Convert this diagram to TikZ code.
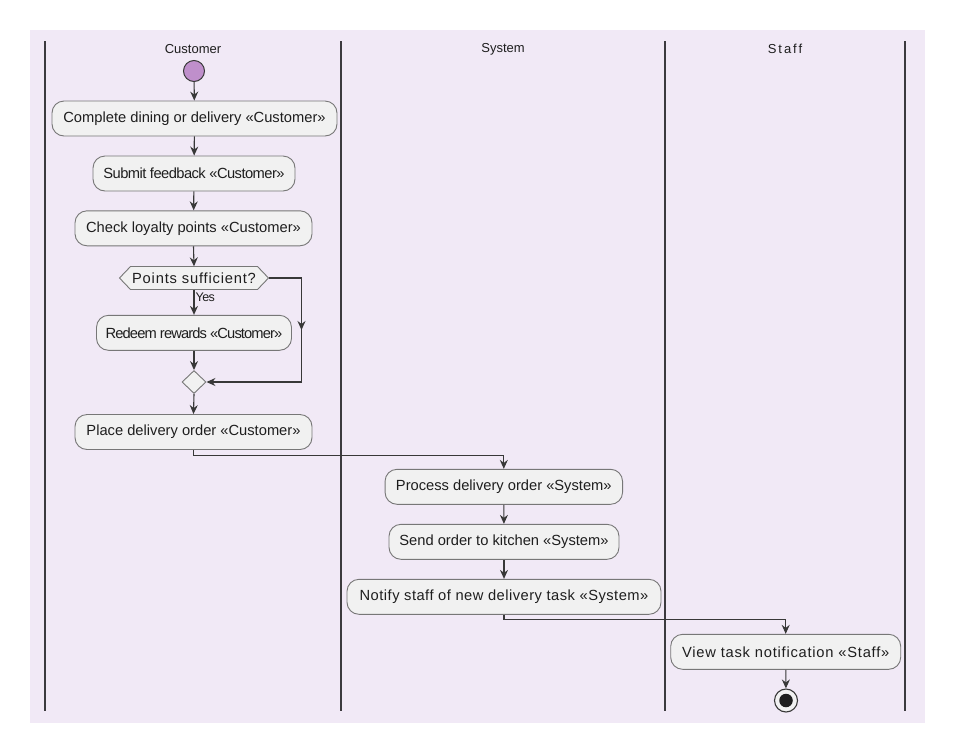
\documentclass[tikz,border=0pt]{standalone}
\usepackage{fontspec}
\setmainfont{Liberation Sans}
\usetikzlibrary{arrows.meta,calc,shapes.geometric}

\definecolor{lanebg}{HTML}{F1E9F6}
\definecolor{boxfill}{HTML}{F1F1F1}
\definecolor{boxline}{HTML}{777777}
\definecolor{flowline}{HTML}{383838}
\definecolor{laneline}{HTML}{3C3A3E}
\definecolor{startfill}{HTML}{BF8FCB}
\definecolor{ink}{HTML}{1E1E1E}

\newcommand\actfont{\fontsize{14.7}{17}\selectfont}
\newcommand\lanefont{\fontsize{13}{15}\selectfont}

\tikzset{
  act/.style={draw=boxline, fill=boxfill, line width=0.9pt, rounded corners=12pt,
    minimum height=35pt, inner sep=0pt, text=ink, font=\actfont},
  flow/.style={draw=flowline, line width=1.1pt,
    -{Stealth[length=9pt,width=8pt,inset=3pt]}},
  plainflow/.style={draw=flowline, line width=1.1pt},
  lane/.style={draw=laneline, line width=2pt},
  lanetitle/.style={text=ink, font=\lanefont, inner sep=0pt},
  gate/.style={draw=boxline, fill=boxfill, line width=0.9pt},
}

\begin{document}
\begin{tikzpicture}[x=1pt,y=-1pt]
  \useasboundingbox (0,0) rectangle (955,753);
  \fill[lanebg] (30,30) rectangle (925,722.5);

  % swimlane separators
  \draw[lane] (45,41) -- (45,711);
  \draw[lane] (341,41) -- (341,711);
  \draw[lane] (665,41) -- (665,711);
  \draw[lane] (905,41) -- (905,711);

  % lane titles
  \node[lanetitle] (tCustomer) at (193,49) {Customer};
  \node[lanetitle] (tSystem) at (503,49) {System};
  \node[lanetitle] (tStaff) at (785,49) {\addfontfeature{LetterSpace=15}Staff};

  % start
  \node[circle, draw=flowline, fill=startfill, line width=1pt, minimum size=21pt, inner sep=0pt] (start) at (194,71) {};

  % customer lane
  \node[act, minimum width=285pt] (complete) at (194.5,118.5) {Complete dining or delivery «Customer»};
  \node[act, minimum width=202pt] (feedback) at (194,173.5) {\addfontfeature{LetterSpace=-3.7}Submit feedback «Customer»};
  \node[act, minimum width=237pt] (loyalty) at (193.5,228.3) {Check loyalty points «Customer»};

  % decision: hexagonal outline, then its label on top
  \draw[gate] (119.5,278) -- (130.5,266.5) -- (257.5,266.5) -- (268.5,278)
    -- (257.5,289.5) -- (130.5,289.5) -- cycle;
  \node[minimum width=127pt, minimum height=23pt, inner sep=0pt, text=ink, font=\actfont] (dec) at (194,278)
    {\addfontfeature{LetterSpace=5.5}Points sufficient?};
  \coordinate (decR) at ($(dec.east)+(11,0)$);

  \node[act, minimum width=195pt] (redeem) at (194,332.8) {\addfontfeature{LetterSpace=-6}Redeem rewards «Customer»};

  % merge
  \node[gate, diamond, minimum width=24pt, minimum height=23pt, inner sep=0pt] (merge) at (194,382) {};

  \node[act, minimum width=237pt] (place) at (193.5,432) {Place delivery order «Customer»};

  % system lane
  \node[act, minimum width=237.5pt] (process) at (503.8,486.8) {Process delivery order «System»};
  \node[act, minimum width=230pt] (kitchen) at (504,541.8) {Send order to kitchen «System»};
  \node[act, minimum width=314pt] (notify) at (504,596.8) {\addfontfeature{LetterSpace=3.3}Notify staff of new delivery task «System»};

  % staff lane
  \node[act, minimum width=230pt] (view) at (785.7,651.8) {\addfontfeature{LetterSpace=5.2}View task notification «Staff»};

  % end
  \node[circle, draw=flowline, fill=boxfill, line width=1.1pt, minimum size=23pt, inner sep=0pt] (stop) at (786,700.5) {};
  \node[circle, fill=ink, minimum size=13.5pt, inner sep=0pt] (stopdot) at (stop.center) {};

  % flows
  \draw[flow] (start) -- (complete);
  \draw[flow] (complete) -- (feedback);
  \draw[flow] (feedback) -- (loyalty);
  \draw[flow] (loyalty.south) -- (dec.north);
  \draw[flow] (dec.south) -- (redeem.north)
    node[pos=0.3, right, inner sep=1pt, text=ink, font=\fontsize{12.5}{14}\selectfont] (yes) {\addfontfeature{LetterSpace=-4}Yes};
  \draw[flow] (redeem.south) -- (merge.north);

  \coordinate (bendA) at (301.5,278);
  \coordinate (bendB) at (301.5,382);
  \coordinate (midA) at (301.5,330);
  \draw[plainflow] (decR) -- (bendA) -- (bendB);
  \draw[flow] (bendA) -- (midA);
  \draw[flow] (bendB) -- (merge.east);

  \draw[flow] (merge.south) -- (place.north);
  \draw[flow] (place.south) -- ++(0,5.5) -| (process.north);
  \draw[flow] (process) -- (kitchen);
  \draw[flow] (kitchen) -- (notify);
  \draw[flow] (notify.south) -- ++(0,5) -| (view.north);
  \draw[flow] (view) -- (stop);
\end{tikzpicture}
\end{document}
